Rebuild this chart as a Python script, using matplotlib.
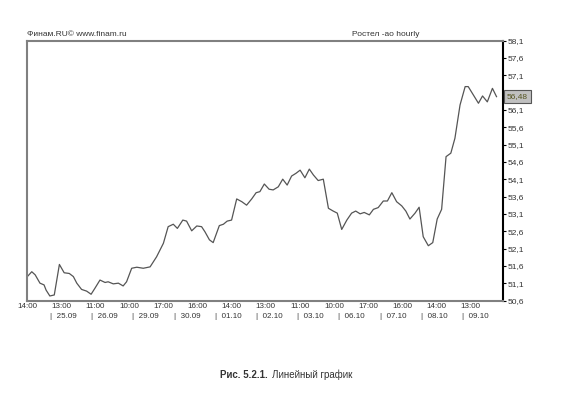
import matplotlib.pyplot as plt
import matplotlib.transforms as mtransforms
import numpy as np

plt.rcParams['font.family'] = ['Liberation Sans', 'DejaVu Sans']

# position on the hourly time scale and price
hours = [0.1, 1.4, 2.4, 3.8, 5.0, 5.6, 6.7, 8.0, 9.5, 10.9,
         12.4, 13.6, 14.6, 16.0, 17.5, 18.8, 19.9, 21.4, 22.9, 23.8,
         25.3, 26.8, 28.2, 29.2, 30.7, 32.2, 34.1, 36.1, 38.0, 40.0,
         41.4, 42.9, 44.1, 45.7, 46.8, 48.3, 49.8, 51.2, 52.2, 53.5,
         54.6, 56.4, 57.6, 58.7, 60.0, 61.5, 63.0, 64.4, 65.9, 67.2,
         68.3, 69.6, 71.0, 72.2, 73.7, 75.0, 76.3, 77.6, 78.9, 80.1,
         81.5, 82.8, 84.0, 85.4, 86.9, 88.4, 89.8, 91.0, 92.3, 93.8,
         95.2, 96.4, 97.7, 98.9, 100.4, 101.6, 103.0, 104.5, 105.7, 107.0,
         108.4, 109.9, 111.1, 112.3, 113.8, 115.0, 116.2, 117.7, 119.0, 120.3,
         121.6, 122.9, 124.3, 125.5, 127.0, 128.5, 129.4, 130.9, 132.4, 133.6,
         135.0, 136.5, 137.7]
prices = [51.29, 51.43, 51.34, 51.10, 51.05, 50.90, 50.73, 50.76, 51.64, 51.40,
          51.38, 51.29, 51.10, 50.92, 50.87, 50.78, 50.95, 51.19, 51.12, 51.14,
          51.08, 51.10, 51.02, 51.14, 51.53, 51.56, 51.53, 51.57, 51.86, 52.25,
          52.73, 52.80, 52.68, 52.92, 52.89, 52.61, 52.75, 52.73, 52.58, 52.35,
          52.27, 52.76, 52.80, 52.89, 52.92, 53.53, 53.45, 53.35, 53.53, 53.71,
          53.74, 53.96, 53.81, 53.79, 53.88, 54.10, 53.93, 54.19, 54.27, 54.36,
          54.14, 54.39, 54.22, 54.06, 54.10, 53.26, 53.18, 53.12, 52.65, 52.92,
          53.12, 53.18, 53.10, 53.14, 53.07, 53.23, 53.28, 53.47, 53.47, 53.71,
          53.45, 53.33, 53.18, 52.95, 53.12, 53.29, 52.44, 52.18, 52.27, 52.95,
          53.23, 54.75, 54.85, 55.28, 56.24, 56.77, 56.77, 56.53, 56.29, 56.50,
          56.33, 56.72, 56.48]

time_labels = ['14:00', '13:00', '11:00', '10:00', '17:00', '16:00', '14:00',
               '13:00', '11:00', '10:00', '17:00', '16:00', '14:00', '13:00']
date_labels = ['25.09', '26.09', '29.09', '30.09', '01.10', '02.10',
               '03.10', '06.10', '07.10', '08.10', '09.10']
price_ticks = [50.6, 51.1, 51.6, 52.1, 52.6, 53.1, 53.6, 54.1,
               54.6, 55.1, 55.6, 56.1, 56.6, 57.1, 57.6, 58.1]
last_price = 56.48

fig = plt.figure(figsize=(5.61, 3.97), dpi=100)
ax = fig.add_axes([27 / 561, 1 - 300.5 / 397, 476 / 561, 260 / 397])

ax.plot(hours, prices, color='#555555', lw=0.9)
ax.set_xlim(0, 139.6)
ax.set_ylim(50.6, 58.1)

# frame: grey on three sides, black price scale on the right
for side in ['left', 'top', 'bottom']:
    ax.spines[side].set_color('#808080')
    ax.spines[side].set_linewidth(1.5)
ax.spines['right'].set_color('black')
ax.spines['right'].set_linewidth(1.5)

# price scale; the 56,6 label sits under the last-price box
ax.yaxis.tick_right()
ax.set_yticks(price_ticks)
ylabels = []
for v in price_ticks:
    if abs(v - last_price) < 0.2:
        ylabels.append('')
    else:
        ylabels.append(f"{v:.1f}".replace('.', ','))
ax.set_yticklabels(ylabels)
ax.tick_params(axis='y', length=2, width=0.8, pad=1.5, labelsize=6, labelcolor='#333333')

# time labels every 10 bars
ax.set_xticks(np.arange(len(time_labels)) * 10)
ax.set_xticklabels(time_labels)
ax.tick_params(axis='x', length=0, pad=2, labelsize=5.8, labelcolor='#333333')

# day separators and dates
trans = mtransforms.blended_transform_factory(ax.transData, ax.transAxes)
for i, d in enumerate(date_labels):
    ax.text(6.75 + i * 12.08, -0.06, '|  ' + d, transform=trans, ha='left', va='center',
            fontsize=5.8, color='#333333', clip_on=False)

# last price marker
ytrans = mtransforms.blended_transform_factory(ax.transAxes, ax.transData)
ax.text(1.008, last_price, f"{last_price:.2f}".replace('.', ','), transform=ytrans,
        ha='left', va='center', fontsize=6, color='#555522', zorder=5, clip_on=False,
        bbox=dict(boxstyle='square,pad=0.35', fc='#c0c0c0', ec='#555555', lw=0.8))

fig.text(27 / 561, 1 - 34 / 397, 'Финам.RU© www.finam.ru', fontsize=6,
         color='#333333', va='center', ha='left')
fig.text(352 / 561, 1 - 34 / 397, 'Ростел -ao hourly', fontsize=6,
         color='#333333', va='center', ha='left')

fig.text(0.478, 1 - 375 / 397, 'Рис. 5.2.1.', fontsize=7, fontweight='bold',
         color='#333333', va='center', ha='right')
fig.text(0.484, 1 - 375 / 397, 'Линейный график', fontsize=7,
         color='#333333', va='center', ha='left')

fig.savefig('out.png', dpi=100)
